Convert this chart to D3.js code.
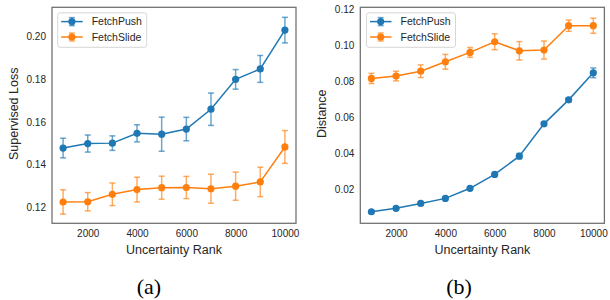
<!DOCTYPE html>
<html>
<head>
<meta charset="utf-8">
<script src="https://cdn.jsdelivr.net/npm/d3@7"></script>
<style>
  body { margin: 0; background: #fff; }
  svg { display: block; font-family: "Liberation Sans", Arial, sans-serif; }
</style>
</head>
<body>
<svg id="chart" width="610" height="300"></svg>
<script>
// shared x values (uncertainty rank)
const ranks = [1000, 2000, 3000, 4000, 5000, 6000, 7000, 8000, 9000, 10000];
const xTicks = [2000, 4000, 6000, 8000, 10000];

// (a) supervised loss
const lossPush = [0.1478, 0.1499, 0.1501, 0.1547, 0.1543, 0.1567, 0.1660, 0.1800, 0.1849, 0.2031];
const lossPushErr = [0.0046, 0.0040, 0.0034, 0.0040, 0.0080, 0.0055, 0.0076, 0.0046, 0.0063, 0.0060];
const lossSlide = [0.1225, 0.1226, 0.1261, 0.1283, 0.1292, 0.1293, 0.1287, 0.1299, 0.1319, 0.1483];
const lossSlideErr = [0.0057, 0.0043, 0.0053, 0.0058, 0.0054, 0.0052, 0.0068, 0.0066, 0.0069, 0.0077];
const lossTicks = [0.12, 0.14, 0.16, 0.18, 0.20];

// (b) distance
const distPush = [0.0076, 0.0095, 0.0122, 0.0150, 0.0206, 0.0283, 0.0384, 0.0563, 0.0696, 0.0846];
const distPushErr = [0.0006, 0.0006, 0.0006, 0.0007, 0.0008, 0.0009, 0.0015, 0.0010, 0.0012, 0.0027];
const distSlide = [0.0815, 0.0828, 0.0855, 0.0907, 0.0959, 0.1018, 0.0968, 0.0972, 0.1107, 0.1107];
const distSlideErr = [0.0028, 0.0027, 0.0035, 0.0041, 0.0027, 0.0044, 0.0051, 0.0050, 0.0031, 0.0042];
const distTicks = [0.02, 0.04, 0.06, 0.08, 0.10, 0.12];

const seriesNames = ["FetchPush", "FetchSlide"];
const colors = ["#1f77b4", "#ff7f0e"];

const svg = d3.select("#chart");

//draws one panel with frame, ticks, lines, error bars and legend
function drawPanel(opt){
    const g = svg.append("g");
    const x = d3.scaleLinear().domain([550, 10450]).range([opt.left, opt.right]);
    const y = d3.scaleLinear().domain(opt.yDomain).range([opt.bottom, opt.top]);

    // x tick labels
    const xAxis = d3.axisBottom(x).tickValues(xTicks).tickSize(0).tickPadding(7).tickFormat(d3.format("d"));
    const gx = g.append("g").attr("transform", "translate(0," + opt.bottom + ")").call(xAxis);
    gx.select(".domain").remove();
    gx.selectAll("text").attr("fill", "#262626").style("font-size", "10px").style("font-family", "Liberation Sans, Arial, sans-serif");

    // y tick labels
    const yAxis = d3.axisLeft(y).tickValues(opt.yTicks).tickSize(0).tickPadding(6).tickFormat(d3.format(".2f"));
    const gy = g.append("g").attr("transform", "translate(" + opt.left + ",0)").call(yAxis);
    gy.select(".domain").remove();
    gy.selectAll("text").attr("fill", "#262626").style("font-size", "10px").style("font-family", "Liberation Sans, Arial, sans-serif");

    // series
    opt.series.forEach(function(s, i){
        const c = colors[i];
        const line = d3.line().x(function(d, j){ return x(ranks[j]); }).y(function(d){ return y(d); });
        const eb = g.append("g").attr("stroke", c).attr("stroke-opacity", 0.65).attr("stroke-width", 1.5);
        s.values.forEach(function(v, j){
            const px = x(ranks[j]);
            const lo = y(v - s.err[j]), hi = y(v + s.err[j]);
            eb.append("line").attr("x1", px).attr("x2", px).attr("y1", lo).attr("y2", hi);
            eb.append("line").attr("x1", px - 3).attr("x2", px + 3).attr("y1", lo).attr("y2", lo);
            eb.append("line").attr("x1", px - 3).attr("x2", px + 3).attr("y1", hi).attr("y2", hi);
        });
        g.append("path").datum(s.values).attr("d", line)
            .attr("fill", "none").attr("stroke", c).attr("stroke-width", 1.5);
        g.append("g").selectAll("circle").data(s.values).enter().append("circle")
            .attr("cx", function(d, j){ return x(ranks[j]); })
            .attr("cy", function(d){ return y(d); })
            .attr("r", 3.6).attr("fill", c);
    });

    // frame
    g.append("rect").attr("x", opt.left).attr("y", opt.top)
        .attr("width", opt.right - opt.left).attr("height", opt.bottom - opt.top)
        .attr("fill", "none").attr("stroke", "#6e6e6e").attr("stroke-width", 1.25);

    // axis titles
    g.append("text").attr("x", (opt.left + opt.right) / 2).attr("y", opt.bottom + 31)
        .attr("text-anchor", "middle").attr("fill", "#262626").style("font-size", "12.5px")
        .text("Uncertainty Rank");
    g.append("text").attr("transform", "translate(" + opt.yLabelX + "," + ((opt.top + opt.bottom) / 2 - 1.5) + ") rotate(-90)")
        .attr("text-anchor", "middle").attr("fill", "#262626").style("font-size", "12.5px")
        .text(opt.yLabel);

    // legend
    const lg = g.append("g").attr("transform", "translate(" + opt.legendX + "," + (opt.top + 5.5) + ")");
    lg.append("rect").attr("width", 89).attr("height", 34.5).attr("rx", 2.5)
        .attr("fill", "#fff").attr("fill-opacity", 0.8).attr("stroke", "#cccccc").attr("stroke-width", 0.8);
    seriesNames.forEach(function(name, i){
        const ry = 8.8 + i * 15.4;
        lg.append("line").attr("x1", 3.5).attr("x2", 25).attr("y1", ry).attr("y2", ry)
            .attr("stroke", colors[i]).attr("stroke-width", 1.5);
        lg.append("line").attr("x1", 14.2).attr("x2", 14.2).attr("y1", ry - 4).attr("y2", ry + 4)
            .attr("stroke", colors[i]).attr("stroke-opacity", 0.65).attr("stroke-width", 1.5);
        lg.append("line").attr("x1", 11.2).attr("x2", 17.2).attr("y1", ry - 4).attr("y2", ry - 4)
            .attr("stroke", colors[i]).attr("stroke-opacity", 0.65).attr("stroke-width", 1.5);
        lg.append("line").attr("x1", 11.2).attr("x2", 17.2).attr("y1", ry + 4).attr("y2", ry + 4)
            .attr("stroke", colors[i]).attr("stroke-opacity", 0.65).attr("stroke-width", 1.5);
        lg.append("circle").attr("cx", 14.2).attr("cy", ry).attr("r", 3.6).attr("fill", colors[i]);
        lg.append("text").attr("x", 34).attr("y", ry + 3.7).attr("fill", "#262626")
            .style("font-size", "10.5px").text(name);
    });

    // panel caption
    g.append("text").attr("x", opt.captionX).attr("y", 294).attr("text-anchor", "middle")
        .attr("fill", "#000").style("font-family", "Liberation Serif, 'Times New Roman', serif")
        .style("font-size", "22px").text(opt.caption);
}

drawPanel({
    left: 52, right: 296, top: 7.3, bottom: 223.3,
    yDomain: [0.1125, 0.2138], yTicks: lossTicks,
    series: [{values: lossPush, err: lossPushErr}, {values: lossSlide, err: lossSlideErr}],
    yLabel: "Supervised Loss", yLabelX: 18, legendX: 57.7,
    caption: "(a)", captionX: 149
});

drawPanel({
    left: 360.3, right: 604.4, top: 7.3, bottom: 223.3,
    yDomain: [0.0012, 0.1209], yTicks: distTicks,
    series: [{values: distPush, err: distPushErr}, {values: distSlide, err: distSlideErr}],
    yLabel: "Distance", yLabelX: 326, legendX: 366.5,
    caption: "(b)", captionX: 459
});
</script>
</body>
</html>
